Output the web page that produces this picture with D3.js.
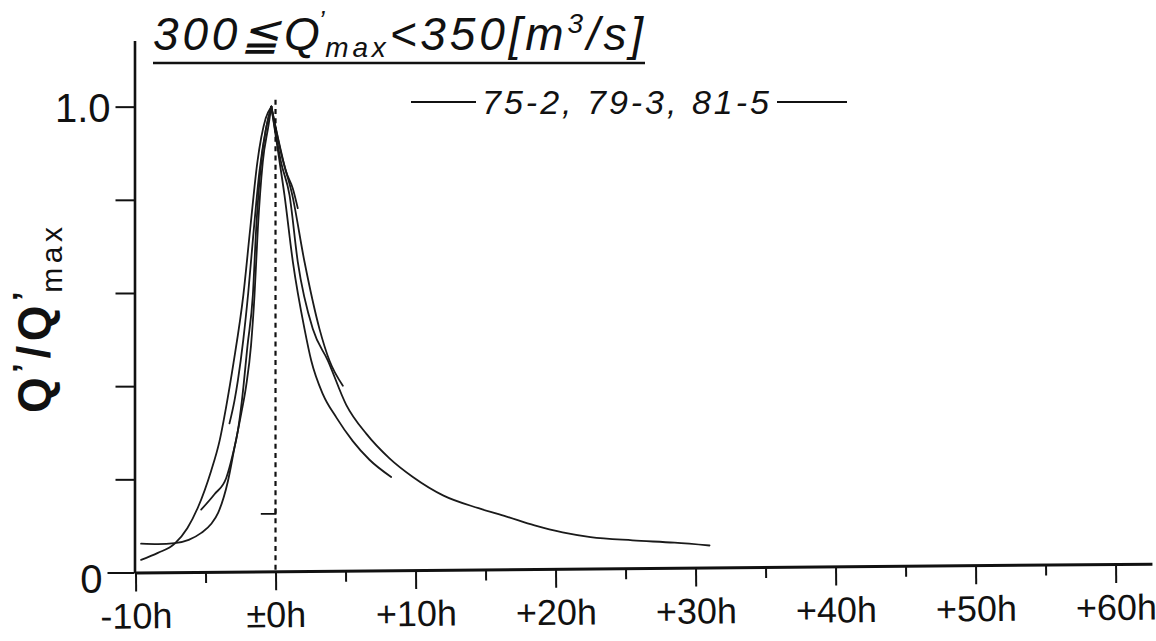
<!DOCTYPE html>
<html>
<head>
<meta charset="utf-8">
<script src="https://cdn.jsdelivr.net/npm/d3@7"></script>
<style>
  html, body { margin: 0; padding: 0; background: #ffffff; }
  svg { display: block; }
  text { font-family: "Liberation Sans", Arial, Helvetica, sans-serif; fill: #111; }
</style>
</head>
<body>
<svg id="chart" width="1156" height="641"></svg>
<script>
// ---------- data ----------
const xTicks = [-10, 0, 10, 20, 30, 40, 50, 60];
const xTickLabels = ["-10h", "±0h", "+10h", "+20h", "+30h", "+40h", "+50h", "+60h"];
const xMinorTicks = [-5, 5, 15, 25, 35, 45, 55];
const yTicks = [0, 0.2, 0.4, 0.6, 0.8, 1.0];
const yTickLabels = ["0", "", "", "", "", "1.0"];
const legendLabel = "75-2, 79-3, 81-5";

// rising limbs  [hours from peak, Q'/Q'max]
const riseA = [[-9.6,0.027],[-8.4,0.042],[-7.2,0.062],[-6.3,0.095],[-5.55,0.139],[-4.6,0.218],[-4.0,0.282],[-3.5,0.36],[-3.0,0.45],[-2.3,0.595],[-1.8,0.74],[-1.3,0.88],[-0.7,0.975],[-0.3,1.0]];
const riseB = [[-9.6,0.062],[-8.4,0.061],[-7.2,0.063],[-6.2,0.07],[-5.3,0.085],[-4.6,0.104],[-4.1,0.128],[-3.4,0.196],[-2.93,0.268],[-2.45,0.341],[-2.1,0.40],[-1.75,0.487],[-1.5,0.595],[-1.26,0.739],[-0.91,0.881],[-0.5,0.96],[-0.3,1.0]];
const riseC = [[-5.31,0.135],[-4.36,0.168],[-3.52,0.203],[-3.05,0.254],[-2.69,0.304],[-2.4,0.369],[-2.0,0.487],[-1.62,0.595],[-1.38,0.739],[-1.02,0.881],[-0.66,0.955],[-0.3,1.0]];
const riseD = [[-3.29,0.32],[-2.93,0.369],[-2.69,0.412],[-2.3,0.5],[-1.95,0.6],[-1.6,0.72],[-1.15,0.86],[-0.7,0.95],[-0.3,1.0]];
// falling limbs
const fallA = [[-0.3,1.0],[0.29,0.918],[0.76,0.86],[1.24,0.824],[1.59,0.782]];
const fallB = [[-0.3,1.0],[0.4,0.9],[1.2,0.81],[2.07,0.667],[3.14,0.523],[3.85,0.455],[4.81,0.401]];
const fallC = [[-0.3,1.0],[0.2,0.9],[0.64,0.81],[1.24,0.667],[2.07,0.523],[2.55,0.455],[3.38,0.383],[4.34,0.333],[5.52,0.282],[6.71,0.242],[8.26,0.205]];
const fallD = [[-0.3,1.0],[0.4,0.88],[1.0,0.81],[1.59,0.667],[2.66,0.523],[3.74,0.455],[5.05,0.36],[6.48,0.298],[8.14,0.245],[9.81,0.205],[12.0,0.165],[14.5,0.138],[16.5,0.12],[18.5,0.101],[20.5,0.086],[22.5,0.076],[25.5,0.069],[28.5,0.064],[31.0,0.058]];
const curves = [riseA, riseB, riseC, riseD, fallA, fallB, fallC, fallD];

// ---------- scales ----------
const svg = d3.select("#chart");
const x = d3.scaleLinear().domain([-10, 62.6]).range([135.5, 1152]);
const y = d3.scaleLinear().domain([0, 1.142]).range([572.5, 40.5]);
const ink = "#111";

// ---------- curves ----------
const line = d3.line()
  .x(d => x(d[0])).y(d => y(d[1]))
  .curve(d3.curveMonotoneX);
svg.append("g").selectAll("path").data(curves).join("path")
  .attr("d", line)
  .attr("fill", "none")
  .attr("stroke", "#1a1a1a")
  .attr("stroke-width", 1.8)
  .attr("stroke-linecap", "round");

// dashed peak line
svg.append("line")
  .attr("x1", x(0)).attr("x2", x(0))
  .attr("y1", y(1.015)).attr("y2", y(0))
  .attr("stroke", ink).attr("stroke-width", 2.2)
  .attr("stroke-dasharray", "5,4.3");
// small mark near the dashed line
svg.append("path")
  .attr("d", `M${x(-1.05)},${y(0.126)} H${x(0)} V${y(0.138)}`)
  .attr("fill", "none").attr("stroke", ink).attr("stroke-width", 1.8);

// ---------- y axis ----------
const yAxis = d3.axisLeft(y).tickValues(yTicks)
  .tickFormat((d, i) => yTickLabels[i]).tickSize(19).tickPadding(5).tickSizeOuter(0);
const gy = svg.append("g").attr("transform", `translate(${x(-10) - 1},0)`).call(yAxis);
gy.select(".domain").attr("stroke", ink).attr("stroke-width", 2.6);
gy.selectAll(".tick line").attr("stroke", ink).attr("stroke-width", 2);
gy.selectAll(".tick text").attr("font-size", 40).attr("fill", ink)
  .attr("font-family", "Liberation Sans, Arial, sans-serif").attr("dy", "0.36em");
gy.selectAll(".tick").filter(d => d === 0).select("line").attr("x2", -27);
gy.selectAll(".tick").filter(d => d === 0).select("text").attr("x", -32).attr("dy", "0.5em");

// ---------- x axis (slightly skewed like the scan) ----------
const gx = svg.append("g")
  .attr("transform", `translate(0,${y(0)}) rotate(-0.5,${x(-10)},0)`);
gx.call(d3.axisBottom(x).tickValues(xMinorTicks).tickFormat("").tickSize(11).tickSizeOuter(0));
gx.call(g => g.selectAll(".tick line").attr("stroke", ink).attr("stroke-width", 2));
const gxMajor = gx.append("g")
  .call(d3.axisBottom(x).tickValues(xTicks)
    .tickFormat((d, i) => xTickLabels[i]).tickSize(19).tickSizeOuter(0));
gxMajor.select(".domain").remove();
gx.select(".domain").attr("stroke", ink).attr("stroke-width", 3);
gxMajor.selectAll(".tick line").attr("stroke", ink).attr("stroke-width", 2);
gxMajor.selectAll(".tick text")
  .attr("font-size", 36).attr("fill", ink)
  .attr("font-family", "Liberation Sans, Arial, sans-serif")
  .attr("y", 56).attr("dy", null);

// ---------- y label ----------
const ylab = svg.append("text")
  .attr("transform", "translate(50,320) rotate(-90)")
  .attr("text-anchor", "middle")
  .attr("font-weight", "bold")
  .attr("font-size", 46)
  .attr("textLength", 186).attr("lengthAdjust", "spacing");
ylab.append("tspan").text("Q");
ylab.append("tspan").attr("font-size", 34).attr("dy", -14).text("’");
ylab.append("tspan").attr("dy", 14).text("/Q");
ylab.append("tspan").attr("font-size", 34).attr("dy", -14).text("’");
ylab.append("tspan").attr("font-size", 30).attr("font-weight", "normal").attr("dx", -6).attr("dy", 26).text("max");

// ---------- title ----------
const title = svg.append("text")
  .attr("x", 153).attr("y", 50)
  .attr("font-style", "italic")
  .attr("font-size", 46)
  .attr("textLength", 490).attr("lengthAdjust", "spacing");
title.append("tspan").text("300≦Q");
title.append("tspan").attr("font-size", 26).attr("dy", -21).attr("dx", -5).text("’");
title.append("tspan").attr("font-size", 28).attr("dy", 28).attr("dx", -3).text("max");
title.append("tspan").attr("dy", -7).text("<350[m");
title.append("tspan").attr("font-size", 28).attr("dy", -17).text("3");
title.append("tspan").attr("dy", 17).text("/s]");
svg.append("line")
  .attr("x1", 153).attr("x2", 645).attr("y1", 63).attr("y2", 63)
  .attr("stroke", ink).attr("stroke-width", 2.5);

// ---------- legend text ----------
svg.append("line").attr("x1", 411).attr("x2", 476).attr("y1", 102).attr("y2", 102)
  .attr("stroke", ink).attr("stroke-width", 1.8);
svg.append("line").attr("x1", 777).attr("x2", 847).attr("y1", 102).attr("y2", 102)
  .attr("stroke", ink).attr("stroke-width", 1.8);
svg.append("text")
  .attr("x", 482).attr("y", 114)
  .attr("font-style", "italic").attr("font-size", 34)
  .attr("textLength", 287).attr("lengthAdjust", "spacing")
  .text(legendLabel);
</script>
</body>
</html>
